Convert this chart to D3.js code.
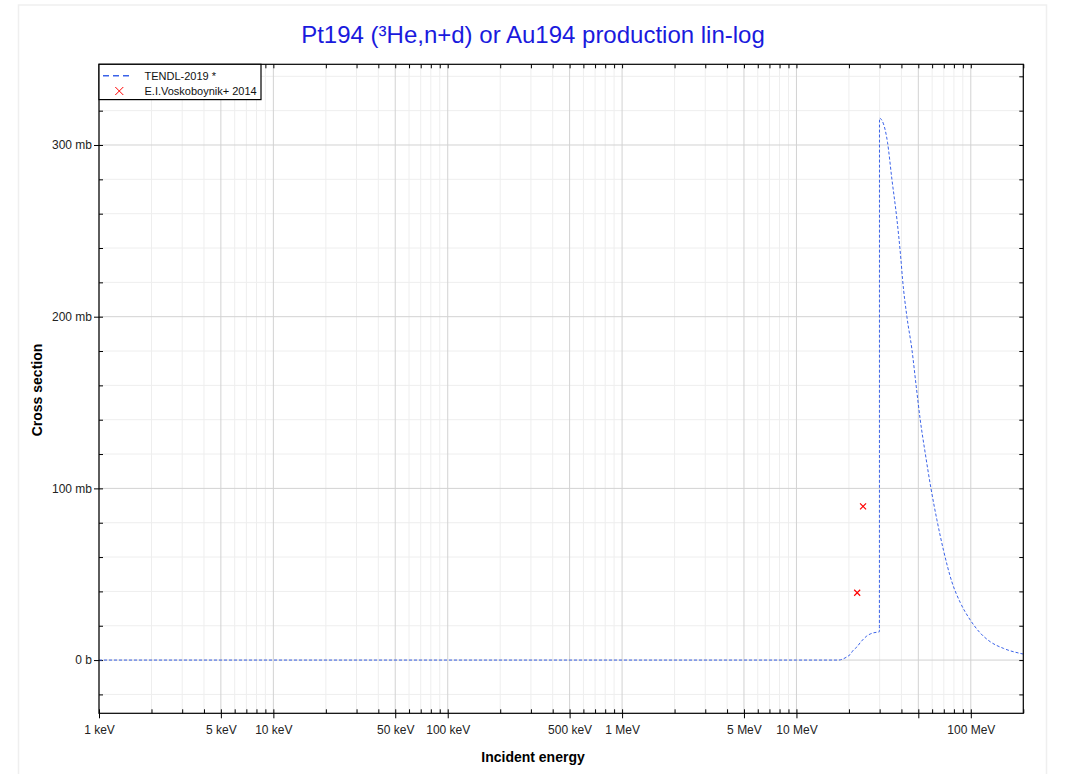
<!DOCTYPE html>
<html>
<head>
<meta charset="utf-8">
<script src="https://cdn.jsdelivr.net/npm/d3@7"></script>
<style>
  body { margin: 0; background: #fff; }
  svg { display: block; font-family: "Liberation Sans", Arial, sans-serif; }
</style>
</head>
<body>
<svg id="chart" width="1071" height="774"></svg>
<script>
// ---- data (energies in MeV, cross sections in mb) ----
const tendlEnergy = [0.001, 0.01, 0.1, 1, 10, 17.5, 18.2, 19.5, 20.3, 21.2, 22.2, 23.2, 24.2, 25.3, 26.5, 27.7, 29.9,
  29.94, 31.56, 33.28, 35.26, 37.67, 39.72, 40.6, 42.99, 45.93, 48.62, 51.25, 54.74, 59.03, 63.9, 69.7, 77.9, 87.0, 99.2, 113.2, 129.2, 154.0, 200];
const tendlXS = [0, 0, 0, 0, 0, 0, 0.4, 1.9, 3.2, 5.8, 7.6, 10.1, 12.2, 14.0, 15.2, 15.9, 16.5,
  315.6, 312.3, 301.6, 280.2, 256.9, 233.5, 221.8, 200.1, 181.0, 159.5, 140.1, 120.7, 100.2, 81.7, 64.0, 45.5, 33.5, 23.4, 15.8, 10.7, 6.8, 3.5];
const exforEnergy = [22.3, 24.1];
const exforXS = [39.2, 89.5];

const xMajorTicks = [0.001, 0.005, 0.01, 0.05, 0.1, 0.5, 1, 5, 10, 50, 100];
const xTickLabels = {0.001: "1 keV", 0.005: "5 keV", 0.01: "10 keV", 0.05: "50 keV", 0.1: "100 keV",
  0.5: "500 keV", 1: "1 MeV", 5: "5 MeV", 10: "10 MeV", 100: "100 MeV"};
const xMinorTicks = [];
[0.001, 0.01, 0.1, 1, 10, 100].forEach(d => [2, 3, 4, 6, 7, 8, 9].forEach(m => { if (d * m <= 200) xMinorTicks.push(+(d * m).toPrecision(3)); }));
const yMajorTicks = [0, 100, 200, 300];
const yTickLabels = ["0 b", "100 mb", "200 mb", "300 mb"];
const yMinorTicks = [-20, 20, 40, 60, 80, 120, 140, 160, 180, 220, 240, 260, 280, 320, 340];

const titleText = "Pt194 (\u00B3He,n+d) or Au194 production lin-log";
const legendNames = ["TENDL-2019 *", "E.I.Voskoboynik+ 2014"];

// ---- layout ----
const L = 99, R = 1023.3, T = 64.3, B = 713.3;
const blue = "#3a62e8", red = "#ff0000";

const svg = d3.select("#chart");
const x = d3.scaleLog().domain([0.001, 200]).range([L, R]);
const y = d3.scaleLinear().domain([-31, 347]).range([B, T]);

// outer frame
svg.append("rect").attr("x", 18.5).attr("y", 5).attr("width", 1028).attr("height", 780)
  .attr("fill", "none").attr("stroke", "#efefef").attr("stroke-width", 1.5);

// title
svg.append("text").attr("x", 533).attr("y", 43).attr("text-anchor", "middle")
  .attr("font-size", 24).attr("fill", "#1a1add").text(titleText);

// grid
const g = svg.append("g");
g.selectAll(".gxm").data(xMinorTicks).join("line")
  .attr("x1", d => x(d)).attr("x2", d => x(d)).attr("y1", T).attr("y2", B)
  .attr("stroke", "#eeeeee").attr("stroke-width", 1);
g.selectAll(".gym").data(yMinorTicks).join("line")
  .attr("x1", L).attr("x2", R).attr("y1", d => y(d)).attr("y2", d => y(d))
  .attr("stroke", "#eeeeee").attr("stroke-width", 1);
g.selectAll(".gxM").data(xMajorTicks).join("line")
  .attr("x1", d => x(d)).attr("x2", d => x(d)).attr("y1", T).attr("y2", B)
  .attr("stroke", "#d2d2d2").attr("stroke-width", 1);
g.selectAll(".gyM").data(yMajorTicks).join("line")
  .attr("x1", L).attr("x2", R).attr("y1", d => y(d)).attr("y2", d => y(d))
  .attr("stroke", "#d2d2d2").attr("stroke-width", 1);

// axes
function styleAxis(sel) {
  sel.select(".domain").remove();
  sel.selectAll("line").attr("stroke", "#000").attr("stroke-width", 1);
  sel.selectAll("text").attr("font-size", 12).attr("fill", "#222")
    .attr("font-family", "Liberation Sans, Arial, sans-serif");
}
// bottom major (outward labels)
svg.append("g").attr("transform", `translate(0,${B})`)
  .call(d3.axisBottom(x).tickValues(xMajorTicks).tickSize(5).tickPadding(7)
    .tickFormat(d => xTickLabels[d] || ""))
  .call(styleAxis);
svg.append("g").attr("transform", `translate(0,${B})`)
  .call(d3.axisTop(x).tickValues(xMajorTicks.concat(xMinorTicks)).tickSize(4).tickFormat(""))
  .call(styleAxis);
svg.append("g").attr("transform", `translate(0,${T})`)
  .call(d3.axisBottom(x).tickValues(xMajorTicks.concat(xMinorTicks)).tickSize(4).tickFormat(""))
  .call(styleAxis);
// left
svg.append("g").attr("transform", `translate(${L},0)`)
  .call(d3.axisLeft(y).tickValues(yMajorTicks).tickSize(5).tickPadding(2)
    .tickFormat((d, i) => yTickLabels[i]))
  .call(styleAxis);
svg.append("g").attr("transform", `translate(${L},0)`)
  .call(d3.axisRight(y).tickValues(yMajorTicks.concat(yMinorTicks)).tickSize(4).tickFormat(""))
  .call(styleAxis);
svg.append("g").attr("transform", `translate(${R},0)`)
  .call(d3.axisLeft(y).tickValues(yMajorTicks.concat(yMinorTicks)).tickSize(4).tickFormat(""))
  .call(styleAxis);

// clip
svg.append("clipPath").attr("id", "clip").append("rect")
  .attr("x", L).attr("y", T).attr("width", R - L).attr("height", B - T);

// TENDL line
const line = d3.line().x((d, i) => x(tendlEnergy[i])).y(d => y(d)).curve(d3.curveMonotoneX);
svg.append("path").datum(tendlXS).attr("clip-path", "url(#clip)")
  .attr("d", line).attr("fill", "none").attr("stroke", blue)
  .attr("stroke-width", 1).attr("stroke-dasharray", "3,2");

// EXFOR points
const ms = 3;
const pts = svg.append("g").selectAll("g").data(exforXS).join("g")
  .attr("transform", (d, i) => `translate(${x(exforEnergy[i])},${y(d)})`);
pts.append("path").attr("d", `M${-ms},${-ms}L${ms},${ms}M${-ms},${ms}L${ms},${-ms}`)
  .attr("stroke", red).attr("stroke-width", 1.2).attr("fill", "none");

// plot frame
svg.append("rect").attr("x", L).attr("y", T).attr("width", R - L).attr("height", B - T)
  .attr("fill", "none").attr("stroke", "#000").attr("stroke-width", 1.2);

// legend
const lg = svg.append("g");
lg.append("rect").attr("x", L).attr("y", T).attr("width", 162).attr("height", 35.3)
  .attr("fill", "#fff").attr("stroke", "#000").attr("stroke-width", 1.2);
lg.append("line").attr("x1", 103).attr("x2", 132).attr("y1", 75.7).attr("y2", 75.7)
  .attr("stroke", blue).attr("stroke-width", 1.5).attr("stroke-dasharray", "6,4");
lg.append("path").attr("transform", "translate(119.3,91)")
  .attr("d", `M-4,-4L4,4M-4,4L4,-4`).attr("stroke", red).attr("stroke-width", 1).attr("fill", "none");
lg.selectAll("text.l").data(legendNames).join("text")
  .attr("x", 144.5).attr("y", (d, i) => 79.5 + i * 15).attr("font-size", 11).attr("fill", "#111").text(d => d);

// axis titles
svg.append("text").attr("x", 533).attr("y", 762).attr("text-anchor", "middle")
  .attr("font-size", 14).attr("font-weight", "bold").text("Incident energy");
svg.append("text").attr("transform", "translate(42,390) rotate(-90)").attr("text-anchor", "middle")
  .attr("font-size", 14).attr("font-weight", "bold").text("Cross section");
</script>
</body>
</html>
